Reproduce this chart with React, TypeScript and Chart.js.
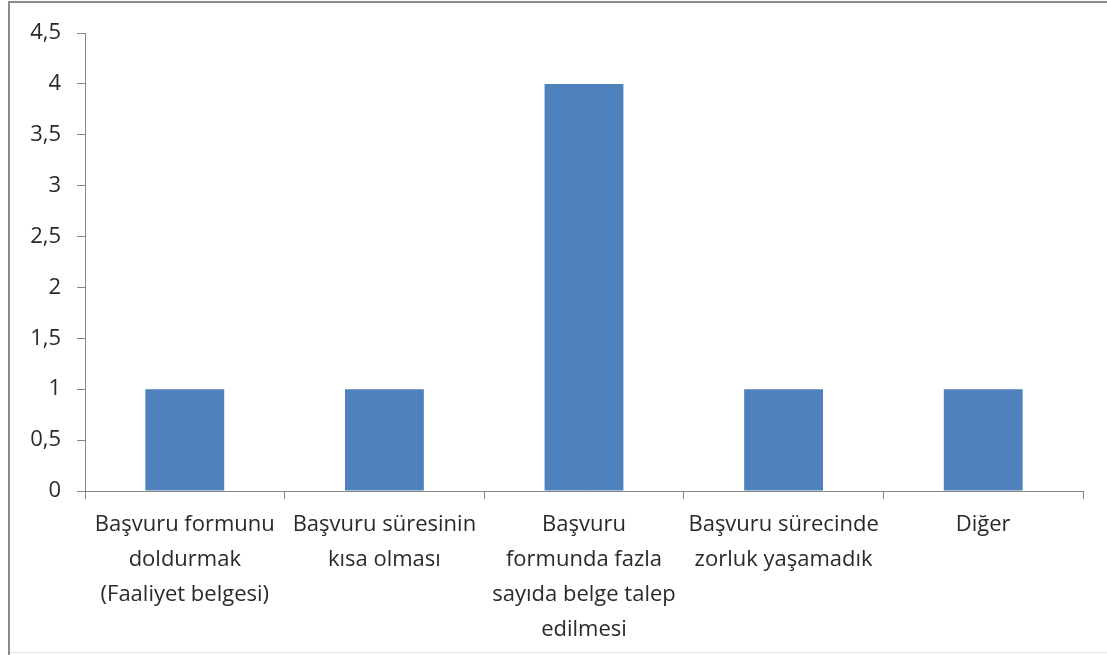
import React, { useEffect, useRef } from "react";
import { Chart, registerables } from "chart.js";

Chart.register(...registerables);

const categories: string[][] = [
  ["Başvuru formunu", "doldurmak", "(Faaliyet belgesi)"],
  ["Başvuru süresinin", "kısa olması"],
  ["Başvuru", "formunda fazla", "sayıda belge talep", "edilmesi"],
  ["Başvuru sürecinde", "zorluk yaşamadık"],
  ["Diğer"],
];
const values: number[] = [1, 1, 4, 1, 1];
const yMin = 0;
const yMax = 4.5;
const yStep = 0.5;

const FONT = "'Open Sans', 'Noto Sans', sans-serif";

export default function App() {
  const ref = useRef<HTMLCanvasElement | null>(null);
  useEffect(() => {
    document.body.style.margin = "0";
    const ctx = ref.current!.getContext("2d")!;
    const chart = new Chart(ctx, {
      type: "bar",
      data: {
        labels: categories,
        datasets: [
          {
            data: values,
            backgroundColor: "#4F81BD",
            borderWidth: 0,
            categoryPercentage: 1,
            barPercentage: 0.395,
          },
        ],
      },
      options: {
        animation: false,
        responsive: false,
        maintainAspectRatio: false,
        layout: { padding: { top: 33, right: 24, left: 0, bottom: 0 } },
        plugins: { legend: { display: false }, tooltip: { enabled: false } },
        scales: {
          x: {
            grid: {
              offset: true,
              drawOnChartArea: false,
              drawTicks: true,
              tickLength: 8,
              color: "#868686",
            },
            border: { display: true, color: "#868686", width: 1 },
            ticks: {
              color: "#2a2a2a",
              font: { family: FONT, size: 22, lineHeight: "35px" },
              padding: 8,
              maxRotation: 0,
              autoSkip: false,
            },
            afterFit: (s: any) => {
              s.height = 164;
            },
          },
          y: {
            min: yMin,
            max: yMax,
            grid: {
              drawOnChartArea: false,
              drawTicks: true,
              tickLength: 8,
              color: "#868686",
            },
            border: { display: true, color: "#868686", width: 1 },
            ticks: {
              stepSize: yStep,
              color: "#2a2a2a",
              padding: 16,
              font: { family: FONT, size: 22 },
              callback: (v: any) => String(v).replace(".", ","),
            },
            afterFit: (s: any) => {
              s.width = 85;
            },
          },
        },
      },
    });
    return () => chart.destroy();
  }, []);
  return (
    <div
      style={{
        position: "fixed",
        left: 0,
        top: 0,
        width: 1107,
        height: 655,
        background: "#fff",
        overflow: "hidden",
      }}
    >
      <canvas
        ref={ref}
        width={1107}
        height={655}
        style={{ position: "absolute", left: 0, top: 0, width: 1107, height: 655 }}
      />
      <div style={{ position: "absolute", left: 8, top: 1, width: 2, height: 655, background: "#8a8a8a" }} />
      <div style={{ position: "absolute", left: 8, top: 1, width: 1099, height: 2, background: "#8a8a8a" }} />
      <div style={{ position: "absolute", left: 10, top: 652, width: 1097, height: 1, background: "#e4e4e4" }} />
    </div>
  );
}
